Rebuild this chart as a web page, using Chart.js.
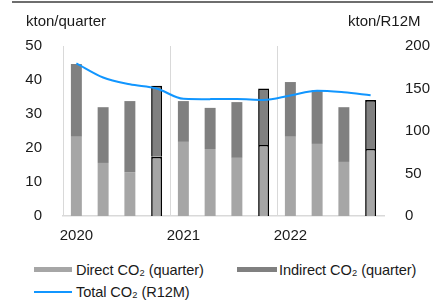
<!DOCTYPE html>
<html>
<head>
<meta charset="utf-8">
<script src="https://cdn.jsdelivr.net/npm/chart.js@4/dist/chart.umd.min.js"></script>
<style>
  html, body { margin: 0; padding: 0; background: #fff; }
  body { width: 438px; height: 302px; position: relative; overflow: hidden;
         font-family: "Liberation Sans", Arial, sans-serif; color: #1a1a1a; }
  #wrap { position: absolute; left: 0; top: 0; width: 438px; height: 250px; }
  .topline { position: absolute; left: 12px; top: 1px; width: 421px; height: 2px; background: #6e6e6e; }
  .unit { position: absolute; top: 11px; font-size: 15px; line-height: 20px; white-space: nowrap; }
  .leg { position: absolute; font-size: 14.6px; line-height: 20px; white-space: nowrap; letter-spacing: -0.1px; }
  .sw { position: absolute; }
</style>
</head>
<body>
<div class="topline"></div>
<div id="wrap"><canvas id="c" width="438" height="250"></canvas></div>
<div class="unit" style="left:26px;">kton/quarter</div>
<div class="unit" style="left:348px;">kton/R12M</div>

<div class="sw" style="left:34px; top:267px; width:38px; height:5px; background:#a6a6a6;"></div>
<div class="leg" style="left:76px; top:260px;">Direct CO₂ (quarter)</div>
<div class="sw" style="left:237px; top:267px; width:40px; height:5px; background:#808080;"></div>
<div class="leg" style="left:279px; top:260px;">Indirect CO₂ (quarter)</div>
<div class="sw" style="left:34px; top:291px; width:38px; height:2px; background:#1196ff;"></div>
<div class="leg" style="left:76px; top:282px;">Total CO₂ (R12M)</div>

<script>
const quarters = ['2020 Q1','2020 Q2','2020 Q3','2020 Q4',
                  '2021 Q1','2021 Q2','2021 Q3','2021 Q4',
                  '2022 Q1','2022 Q2','2022 Q3','2022 Q4'];
const yearTicks = ['2020','','','','2021','','','','2022','','',''];
const directCO2 = [23.3, 15.6, 12.9, 17.4, 21.8, 19.7, 17.1, 20.9, 23.3, 21.2, 15.9, 19.7];
const indirectCO2 = [21.4, 16.4, 20.9, 20.9, 12.0, 12.1, 16.4, 16.6, 16.1, 15.8, 16.1, 14.4];
const totalR12M = [179.6, 163.0, 155.0, 150.0, 138.0, 137.5, 137.6, 136.5, 141.8, 147.4, 145.5, 142.0];

const FONT = { family: '"Liberation Sans", Arial, sans-serif', size: 15 };
const q4Border = ctx => (ctx.dataIndex % 4 === 3 ? 1.6 : 0);

new Chart(document.getElementById('c'), {
  data: {
    labels: quarters,
    datasets: [
      { type: 'line', label: 'Total CO₂ (R12M)', data: totalR12M, yAxisID: 'y2',
        borderColor: '#1196ff', borderWidth: 2, pointRadius: 0, tension: 0.4,
        cubicInterpolationMode: 'monotone', order: 0 },
      { type: 'bar', label: 'Direct CO₂ (quarter)', data: directCO2, yAxisID: 'y',
        backgroundColor: '#a6a6a6', borderColor: '#000', borderWidth: q4Border,
        stack: 's', order: 1, barPercentage: 0.41, categoryPercentage: 1 },
      { type: 'bar', label: 'Indirect CO₂ (quarter)', data: indirectCO2, yAxisID: 'y',
        backgroundColor: '#808080', borderColor: '#000', borderWidth: q4Border,
        stack: 's', order: 1, barPercentage: 0.41, categoryPercentage: 1 }
    ]
  },
  options: {
    responsive: false,
    animation: false,
    devicePixelRatio: 1,
    layout: { padding: { top: 46, left: 0, right: 0, bottom: 0 } },
    plugins: { legend: { display: false }, tooltip: { enabled: false } },
    scales: {
      x: {
        stacked: true,
        offset: true,
        grid: { offset: true, drawTicks: false, lineWidth: 1,
                color: ctx => (ctx.index % 4 === 0 ? '#d9d9d9' : 'rgba(0,0,0,0)') },
        border: { display: true, color: '#d9d9d9', width: 1.5 },
        ticks: { autoSkip: false, maxRotation: 0, minRotation: 0, padding: 11,
                 color: '#1a1a1a', font: FONT,
                 callback: (v, i) => yearTicks[i] },
        afterFit: s => { s.height = 34; }
      },
      y: {
        position: 'left', stacked: true, min: 0, max: 50,
        grid: { display: false }, border: { display: false },
        ticks: { stepSize: 10, padding: 13, color: '#1a1a1a', font: FONT },
        afterFit: s => { s.width = 63; }
      },
      y2: {
        position: 'right', min: 0, max: 200,
        grid: { display: false }, border: { display: false },
        ticks: { stepSize: 50, padding: 13, color: '#1a1a1a', font: FONT },
        afterFit: s => { s.width = 54; }
      }
    }
  }
});
</script>
</body>
</html>
